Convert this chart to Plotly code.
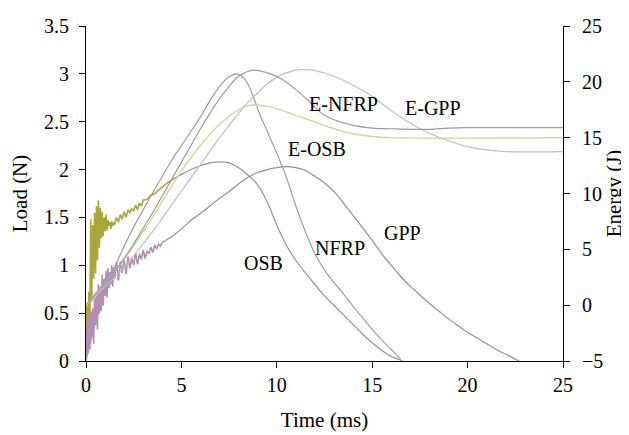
import plotly.graph_objects as go

# ---------------- data ----------------
# OSB load, noisy early part (olive)
osb_t_early = [0.00, 0.05, 0.10, 0.15, 0.20, 0.25, 0.30, 0.35, 0.40, 0.45, 0.50, 0.55, 0.60, 0.65,
               0.70, 0.75, 0.80, 0.85, 0.90, 0.95, 1.00, 1.05, 1.10, 1.15, 1.20, 1.25, 1.30, 1.35,
               1.40, 1.45, 1.50, 1.6, 1.7, 1.8, 1.9, 2.0, 2.1, 2.2, 2.3, 2.4, 2.5, 2.6, 2.7, 2.8,
               2.9, 3.0, 3.2, 3.4, 3.6, 3.8, 4.0, 4.2, 4.4]
osb_load_early = [0.05, 0.58, 0.12, 0.72, 0.30, 1.48, 0.62, 1.42, 0.86, 1.55, 0.92, 1.62, 1.05, 1.68,
                  1.18, 1.60, 1.28, 1.56, 1.30, 1.50, 1.36, 1.53, 1.37, 1.47, 1.41, 1.45, 1.38, 1.46,
                  1.41, 1.44, 1.43, 1.50, 1.45, 1.53, 1.48, 1.56, 1.50, 1.58, 1.55, 1.59, 1.57, 1.63,
                  1.58, 1.65, 1.62, 1.68, 1.69, 1.73, 1.75, 1.79, 1.82, 1.85, 1.88]
# OSB load, smooth later part
osb_t = [4.4, 5.0, 5.5, 6.0, 6.5, 7.0, 7.5, 8.0, 8.5, 9.0, 9.5, 10.0, 10.5, 11.0, 11.5, 12.0,
         12.5, 13.0, 13.5, 14.0, 14.5, 15.0, 15.5, 16.0, 16.6]
osb_load = [1.88, 1.95, 2.00, 2.04, 2.07, 2.08, 2.07, 2.02, 1.94, 1.84, 1.66, 1.42, 1.21, 1.05,
            0.92, 0.80, 0.68, 0.58, 0.48, 0.38, 0.28, 0.19, 0.11, 0.05, 0.00]

# NFRP load (smooth)
nfrp_t = [0.0, 0.5, 1.0, 1.5, 2.0, 2.5, 3.0, 3.5, 4.0, 4.5, 5.0, 5.5, 6.0, 6.5, 7.0, 7.5, 7.9,
          8.3, 8.7, 9.1, 9.5, 10.0, 10.5, 11.0, 11.5, 12.0, 12.5, 13.0, 13.5, 14.0, 14.5, 15.0,
          15.5, 16.0, 16.5]
nfrp_load = [0.00, 0.40, 0.75, 0.98, 1.20, 1.40, 1.58, 1.76, 1.93, 2.10, 2.25, 2.40, 2.55, 2.72,
             2.87, 2.97, 3.00, 2.95, 2.80, 2.58, 2.40, 2.17, 1.92, 1.62, 1.35, 1.12, 0.95, 0.82,
             0.70, 0.57, 0.45, 0.33, 0.22, 0.12, 0.02]

# GPP load, noisy early part (purple)
gpp_t_early = [0.00, 0.05, 0.10, 0.15, 0.20, 0.25, 0.30, 0.35, 0.40, 0.45, 0.50, 0.55, 0.60, 0.65,
               0.70, 0.75, 0.80, 0.85, 0.90, 0.95, 1.00, 1.05, 1.10, 1.15, 1.20, 1.25, 1.30, 1.35,
               1.40, 1.45, 1.50, 1.6, 1.7, 1.8, 1.9, 2.0, 2.1, 2.2, 2.3, 2.4, 2.5, 2.6, 2.7, 2.8,
               2.9, 3.0, 3.1, 3.2, 3.3, 3.4, 3.5, 3.6, 3.7, 3.8, 3.9, 4.0]
gpp_load_early = [0.05, 0.32, 0.08, 0.45, 0.12, 0.52, 0.25, 0.55, 0.18, 0.66, 0.38, 0.72, 0.33, 0.80,
                  0.50, 0.78, 0.52, 0.90, 0.58, 0.86, 0.68, 0.94, 0.66, 0.97, 0.76, 0.93, 0.80, 1.00,
                  0.78, 0.98, 0.86, 1.03, 0.84, 1.04, 0.92, 1.06, 0.91, 1.09, 0.97, 1.08, 1.00, 1.13,
                  1.01, 1.12, 1.06, 1.16, 1.07, 1.15, 1.12, 1.19, 1.13, 1.21, 1.17, 1.22, 1.20, 1.24]
# GPP load, smooth later part
gpp_t = [4.0, 4.5, 5.0, 5.5, 6.0, 6.5, 7.0, 7.5, 8.0, 8.5, 9.0, 9.5, 10.0, 10.5, 11.0, 11.5, 12.0,
         12.5, 13.0, 13.5, 14.0, 14.5, 15.0, 15.5, 16.0, 16.5, 17.0, 17.5, 18.0, 18.5, 19.0, 19.5,
         20.0, 20.5, 21.0, 21.5, 22.0, 22.5, 22.7]
gpp_load = [1.24, 1.30, 1.38, 1.47, 1.54, 1.62, 1.70, 1.77, 1.85, 1.92, 1.97, 2.00, 2.02, 2.03,
            2.02, 1.99, 1.93, 1.86, 1.77, 1.65, 1.52, 1.39, 1.26, 1.12, 1.00, 0.88, 0.78, 0.69,
            0.60, 0.52, 0.44, 0.37, 0.30, 0.24, 0.18, 0.12, 0.07, 0.02, 0.00]

# Energy curves (right axis)
e_nfrp_t = [0.0, 0.5, 1.0, 1.5, 2.0, 2.5, 3.0, 3.5, 4.0, 4.5, 5.0, 5.5, 6.0, 6.5, 7.0, 7.5, 8.0,
            8.75, 9.5, 10.2, 11.0, 11.6, 12.0, 12.5, 13.0, 14.0, 15.0, 16.0, 17.0, 18.0, 19.0,
            20.0, 22.0, 25.0]
e_nfrp = [0.0, 1.0, 2.0, 3.0, 4.2, 5.5, 6.9, 8.3, 9.8, 11.3, 12.8, 14.3, 15.8, 17.2, 18.5, 19.6,
          20.5, 21.05, 20.8, 20.3, 19.3, 18.4, 17.7, 17.0, 16.6, 16.1, 15.85, 15.8, 15.75, 15.75,
          15.85, 15.9, 15.9, 15.9]

e_gpp_t = [0.0, 0.5, 1.0, 1.5, 2.0, 2.5, 3.0, 3.5, 4.0, 4.5, 5.0, 5.5, 6.0, 6.5, 7.0, 7.5, 8.0,
           8.5, 9.0, 9.5, 10.0, 10.5, 11.0, 11.5, 12.0, 13.0, 14.0, 15.0, 16.0, 17.0, 18.0, 19.0,
           20.0, 21.0, 22.0, 25.0]
e_gpp = [0.0, 0.8, 1.7, 2.5, 3.4, 4.4, 5.5, 6.6, 7.8, 9.0, 10.2, 11.4, 12.6, 13.8, 15.0, 16.1,
         17.2, 18.2, 19.0, 19.8, 20.4, 20.8, 21.05, 21.1, 21.0, 20.5, 19.7, 18.7, 17.4, 16.3, 15.4,
         14.7, 14.2, 13.9, 13.75, 13.75]

e_osb_t = [0.0, 0.5, 1.0, 1.5, 2.0, 2.5, 3.0, 3.5, 4.0, 4.5, 5.0, 5.5, 6.0, 6.5, 7.0, 7.5, 8.0,
           8.6, 9.5, 10.0, 11.0, 12.0, 13.0, 14.0, 15.0, 16.0, 25.0]
e_osb = [0.0, 1.0, 2.0, 3.0, 4.1, 5.3, 6.6, 7.9, 9.3, 10.7, 12.0, 13.2, 14.3, 15.3, 16.2, 16.9,
         17.5, 17.9, 17.8, 17.6, 17.0, 16.4, 15.8, 15.35, 15.1, 15.0, 15.0]

# curve labels: (text, time, load)
label_text = ["OSB", "NFRP", "GPP", "E-OSB", "E-NFRP", "E-GPP"]
label_t = [9.3, 13.3, 16.6, 12.1, 13.5, 18.2]
label_load = [1.02, 1.18, 1.34, 2.22, 2.68, 2.64]

x_ticks = [0, 5, 10, 15, 20, 25]
load_ticks = [0, 0.5, 1, 1.5, 2, 2.5, 3, 3.5]
energy_ticks = [-5, 0, 5, 10, 15, 20, 25]

# ---------------- figure ----------------
FONT = "Liberation Serif"

fig = go.Figure()


def add(x, y, color, width=1.2, axis="y", shape="spline"):
    fig.add_trace(go.Scatter(x=x, y=y, mode="lines", yaxis=axis,
                             line=dict(color=color, width=width, shape=shape),
                             showlegend=False, hoverinfo="skip"))


# energy curves
add(e_gpp_t, e_gpp, "#b3c3cd", 1.2, "y2")
add(e_osb_t, e_osb, "#d6d39e", 1.4, "y2")
add(e_nfrp_t, e_nfrp, "#989ca3", 1.2, "y2")
# load curves
add(nfrp_t, nfrp_load, "#9c9ea4", 1.2)
add(osb_t, osb_load, "#94968a", 1.2)
add(gpp_t, gpp_load, "#939095", 1.2)
add(osb_t_early, osb_load_early, "#aaa63a", 1.6, shape="linear")
add(gpp_t_early, gpp_load_early, "#b48db2", 1.6, shape="linear")

for txt, tx, ty in zip(label_text, label_t, label_load):
    fig.add_annotation(x=tx, y=ty, xref="x", yref="y", text=txt, showarrow=False,
                       font=dict(family=FONT, size=20, color="black"))

axis_common = dict(showgrid=False, zeroline=False, showline=True, linecolor="black",
                   linewidth=1.2, ticks="outside", ticklen=6, tickcolor="black",
                   ticklabeloverflow="allow",
                   tickfont=dict(family=FONT, size=20, color="black"))
title_font = dict(family=FONT, size=21, color="black")

# the page body adds an 8px offset, so the figure is sized to the remaining window
fig.update_layout(
    width=621, height=427,
    margin=dict(l=78, r=66, t=7, b=70),
    paper_bgcolor="white", plot_bgcolor="white",
    xaxis=dict(range=[0, 25], tickvals=x_ticks,
               title=dict(text="Time (ms)", font=title_font, standoff=17),
               **axis_common),
    yaxis=dict(range=[0, 3.5], tickvals=load_ticks, ticklabelstandoff=6,
               title=dict(text="Load (N)", font=title_font, standoff=13),
               **axis_common),
    yaxis2=dict(range=[-5, 25], tickvals=energy_ticks, overlaying="y", side="right",
                ticklabelstandoff=8,
                title=dict(text="Energy (J)", font=title_font, standoff=0),
                **axis_common),
)

fig.write_html("out.html", config={"displayModeBar": False})
